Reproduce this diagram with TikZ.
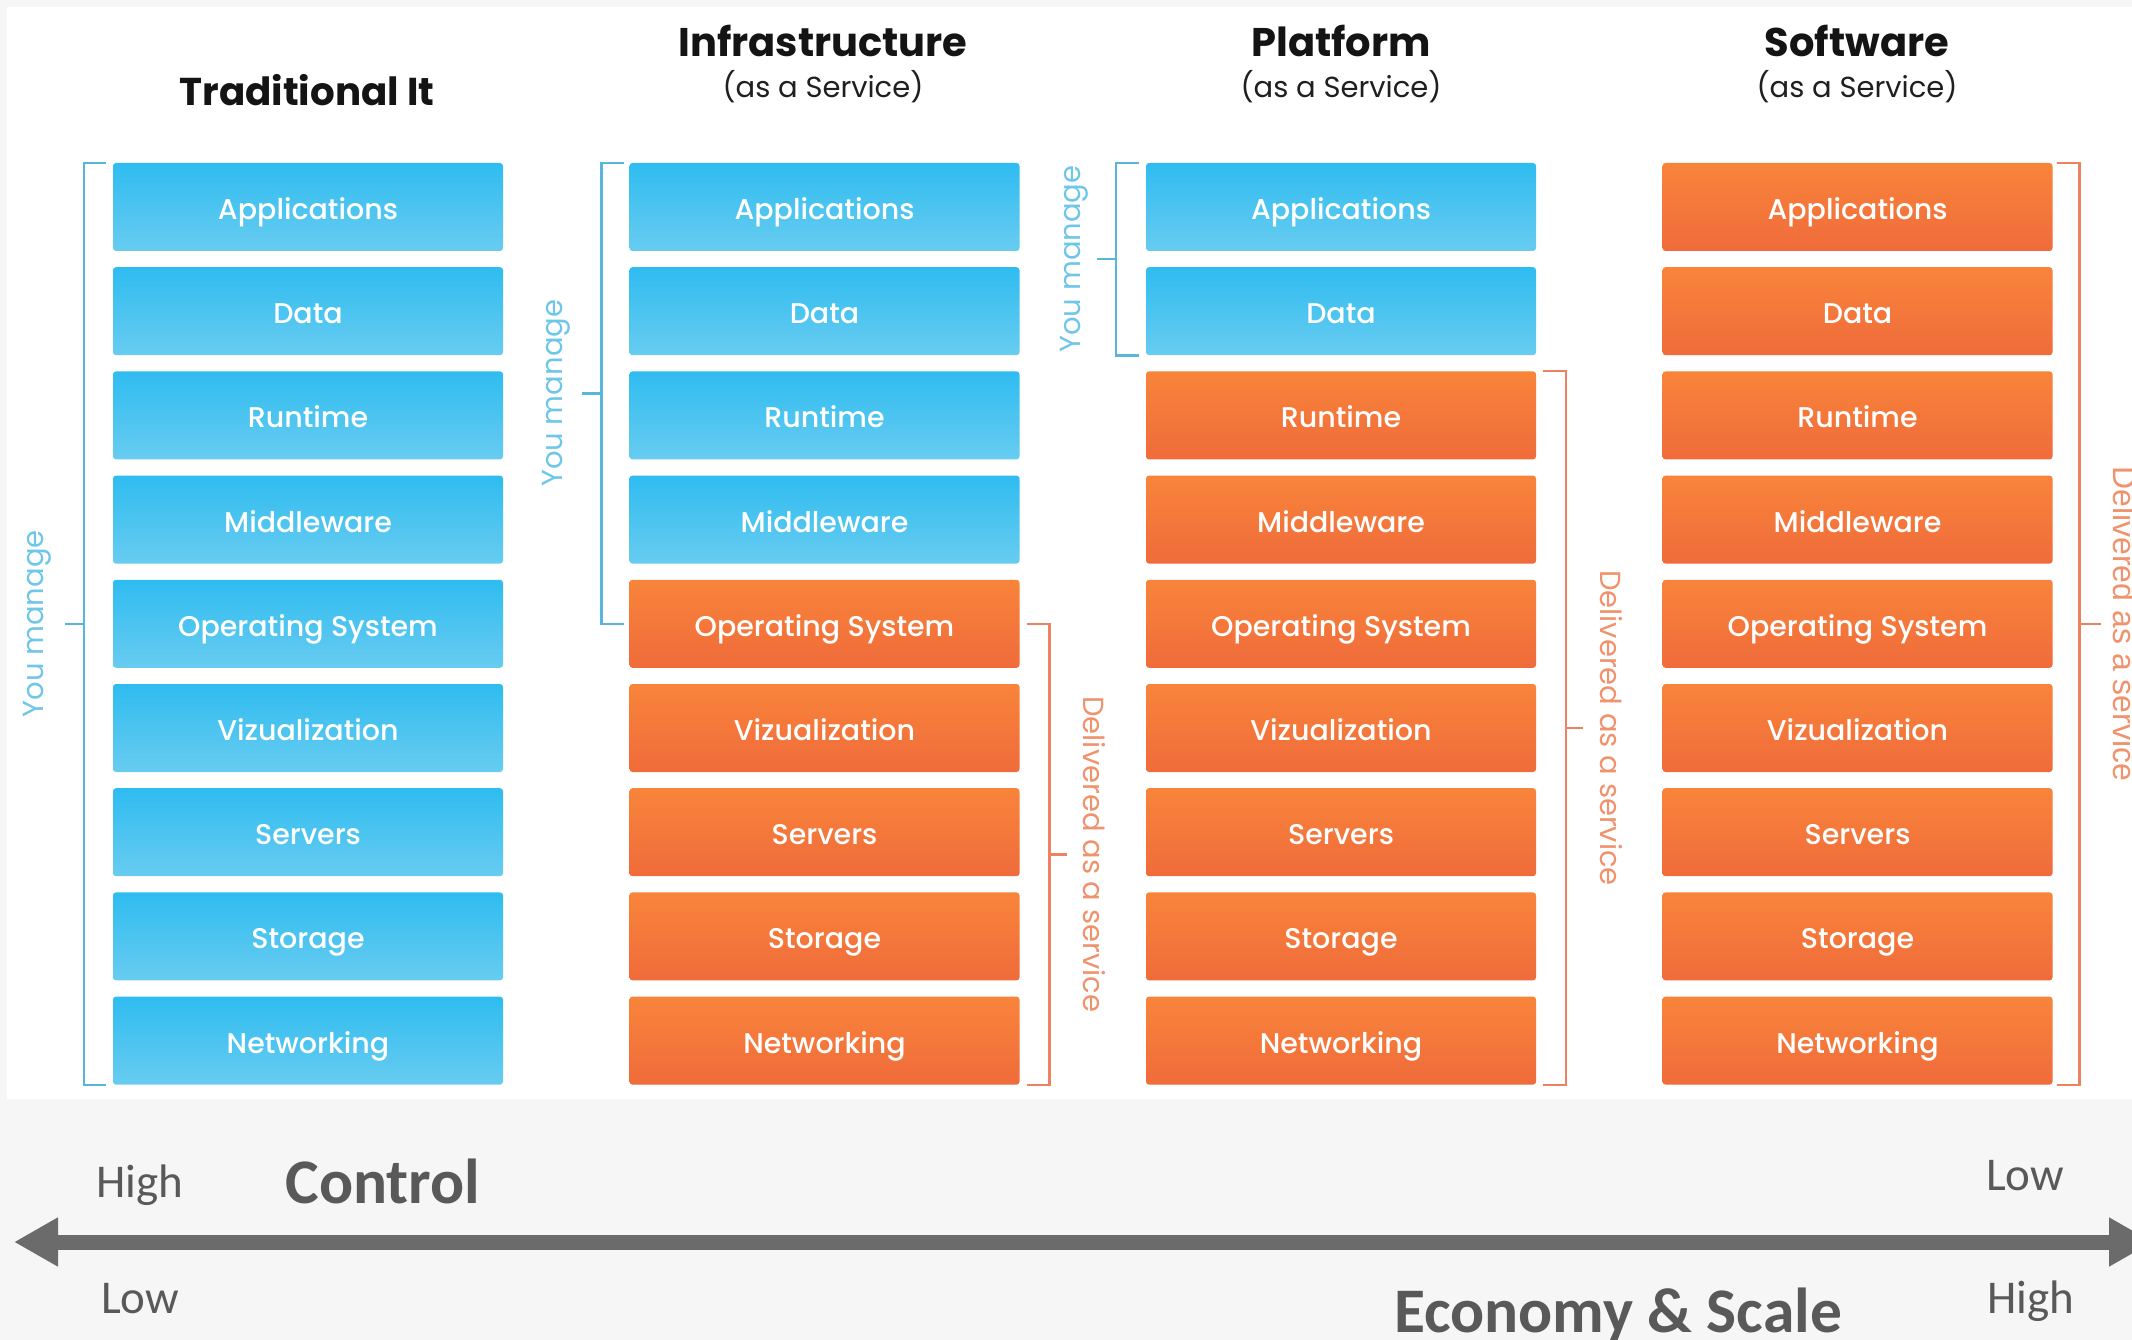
\documentclass[tikz,border=0pt]{standalone}
\usepackage{fontspec}
\usetikzlibrary{arrows.meta,calc}
\newfontfamily\pop{Poppins}
\newfontfamily\popmed{Poppins Medium}
\newfontfamily\carl{Carlito}
\newfontfamily\libsans{Liberation Sans}
\definecolor{bgray}{HTML}{F6F6F6}
\definecolor{bluetop}{HTML}{2FBCF0}
\definecolor{bluebot}{HTML}{68CCF0}
\definecolor{orgtop}{HTML}{F8843A}
\definecolor{orgbot}{HTML}{F06B3B}
\definecolor{bbrc}{HTML}{58B6DA}
\definecolor{obrc}{HTML}{EC8262}
\definecolor{btxt}{HTML}{6EC6E8}
\definecolor{otxt}{HTML}{F0926C}
\definecolor{tgray}{HTML}{595959}
\definecolor{agray}{HTML}{6B6B6B}
\begin{document}
\begin{tikzpicture}[x=1pt,y=-1pt,
  layerbox/.style={minimum width=390pt, minimum height=88pt, rounded corners=3pt, inner sep=0pt,
    text height=25pt, text depth=0pt,
    font=\popmed\fontsize{28.5}{28.5}\selectfont, text=white},
  bluebox/.style={layerbox, top color=bluetop, bottom color=bluebot},
  orangebox/.style={layerbox, top color=orgtop, bottom color=orgbot},
  bbr/.style={draw=bbrc, line width=2.5pt},
  obr/.style={draw=obrc, line width=2.5pt},
  blab/.style={text=btxt, font=\pop\fontsize{29}{29}\selectfont, inner sep=0pt},
  olab/.style={text=otxt, font=\pop\fontsize{29}{29}\selectfont, inner sep=0pt},
  head/.style={anchor=base, text=black!92, font=\pop\bfseries\fontsize{40}{40}\selectfont, inner sep=0pt},
  subhead/.style={anchor=base, text=black!88, font=\pop\fontsize{29}{29}\selectfont, inner sep=0pt},
  small/.style={anchor=base, text=tgray, font=\carl\fontsize{47}{47}\selectfont, inner sep=0pt},
  big/.style={anchor=base, text=tgray, font=\carl\bfseries\fontsize{63.5}{63.5}\selectfont, inner sep=0pt}]
\useasboundingbox (0,0) rectangle (2132,1340);
\fill[bgray] (0,0) rectangle (2132,1340);
\fill[white] (7,7) rectangle (2132,1099);

% headers
\node[head, font=\pop\bfseries\fontsize{38.8}{38.8}\selectfont] (h1) at (307,106) {Traditional It};
\node[head] (h2) at (823,57) {Infrastructure};
\node[subhead] (s2) at (823,98) {(as a Service)};
\node[head] (h3) at (1341,57) {Platform};
\node[subhead] (s3) at (1341,98) {(as a Service)};
\node[head] (h4) at (1857,57) {Software};
\node[subhead] (s4) at (1857,98) {(as a Service)};

% layer boxes
\foreach \lab [count=\i] in {Applications,Data,Runtime,Middleware,Operating System,Vizualization,Servers,Storage,Networking}{
  \pgfmathsetmacro\yy{207+104.2*(\i-1)}
  \node[bluebox] (a\i) at (308,\yy) {\lab};
  \ifnum\i<5 \node[bluebox] (b\i) at (824.5,\yy) {\lab};
  \else \node[orangebox] (b\i) at (824.5,\yy) {\lab}; \fi
  \ifnum\i<3 \node[bluebox] (c\i) at (1341,\yy) {\lab};
  \else \node[orangebox] (c\i) at (1341,\yy) {\lab}; \fi
  \node[orangebox] (d\i) at (1857.5,\yy) {\lab};
}

% column 1: you manage
\draw[bbr] ([xshift=-7pt]a1.north west) -- ([xshift=-29pt]a1.north west) -- ([xshift=-29pt]a9.south west) -- ([xshift=-7pt]a9.south west);
\coordinate (m1) at ($([xshift=-29pt]a1.north west)!0.5!([xshift=-29pt]a9.south west)$);
\draw[bbr] (m1) -- ++(-19,0);
\node[blab, rotate=90] (l1) at ($(m1)+(-46,0)$) {You manage};

% column 2: you manage
\draw[bbr] ([xshift=-5pt]b1.north west) -- ([xshift=-28pt]b1.north west) -- ([xshift=-28pt]b5.west) -- ([xshift=-5pt]b5.west);
\coordinate (m2) at ($([xshift=-28pt]b1.north west)!0.5!([xshift=-28pt]b5.west)$);
\draw[bbr] (m2) -- ++(-19,0);
\node[blab, rotate=90] (l2) at ($(m2)+(-45,0)$) {You manage};

% column 2: delivered
\draw[obr] ([xshift=7pt]b5.east) -- ([xshift=30pt]b5.east) -- ([xshift=30pt]b9.south east) -- ([xshift=7pt]b9.south east);
\coordinate (m3) at ($([xshift=30pt]b5.east)!0.5!([xshift=30pt]b9.south east)$);
\draw[obr] (m3) -- ++(17,0);
\node[olab, rotate=-90] (l3) at ($(m3)+(45,0)$) {Delivered as a service};

% column 3: you manage
\draw[bbr] ([xshift=-7pt]c1.north west) -- ([xshift=-30pt]c1.north west) -- ([xshift=-30pt]c2.south west) -- ([xshift=-7pt]c2.south west);
\coordinate (m4) at ($([xshift=-30pt]c1.north west)!0.5!([xshift=-30pt]c2.south west)$);
\draw[bbr] (m4) -- ++(-19,0);
\node[blab, rotate=90] (l4) at ($(m4)+(-42,0)$) {You manage};

% column 3: delivered
\draw[obr] ([xshift=7pt]c3.north east) -- ([xshift=30pt]c3.north east) -- ([xshift=30pt]c9.south east) -- ([xshift=7pt]c9.south east);
\coordinate (m5) at ($([xshift=30pt]c3.north east)!0.5!([xshift=30pt]c9.south east)$);
\draw[obr] (m5) -- ++(17,0);
\node[olab, rotate=-90] (l5) at ($(m5)+(45,0)$) {Delivered as a service};

% column 4: delivered (cut by the right edge, as in the reference)
\draw[obr] ([xshift=4pt]d1.north east) -- ([xshift=27pt]d1.north east) -- ([xshift=27pt]d9.south east) -- ([xshift=4pt]d9.south east);
\coordinate (m6) at ($([xshift=27pt]d1.north east)!0.5!([xshift=27pt]d9.south east)$);
\draw[obr] (m6) -- ++(21,0);
\node[olab, rotate=-90, anchor=base, font=\libsans\fontsize{32}{32}\selectfont] (l6) at ($(m6)+(34,0)$) {Delivered as a service};

% bottom scale
\coordinate (aL) at (14,1242);
\coordinate (aR) at (2153,1242);
\draw[agray, line width=15pt, {Triangle[length=44pt,width=46pt]}-{Triangle[length=44pt,width=46pt]}] (aL) -- (aR);
\node[small] (hiL) at (140,1197) {High};
\node[big] (ctl) at (383,1203) {Control};
\node[small] (loR) at (2025,1190) {Low};
\node[small] (loL) at (140,1313) {Low};
\node[small] (hiR) at (2031,1313) {High};
\node[big] (eco) at (1618,1332) {Economy \& Scale};
\end{tikzpicture}
\end{document}
